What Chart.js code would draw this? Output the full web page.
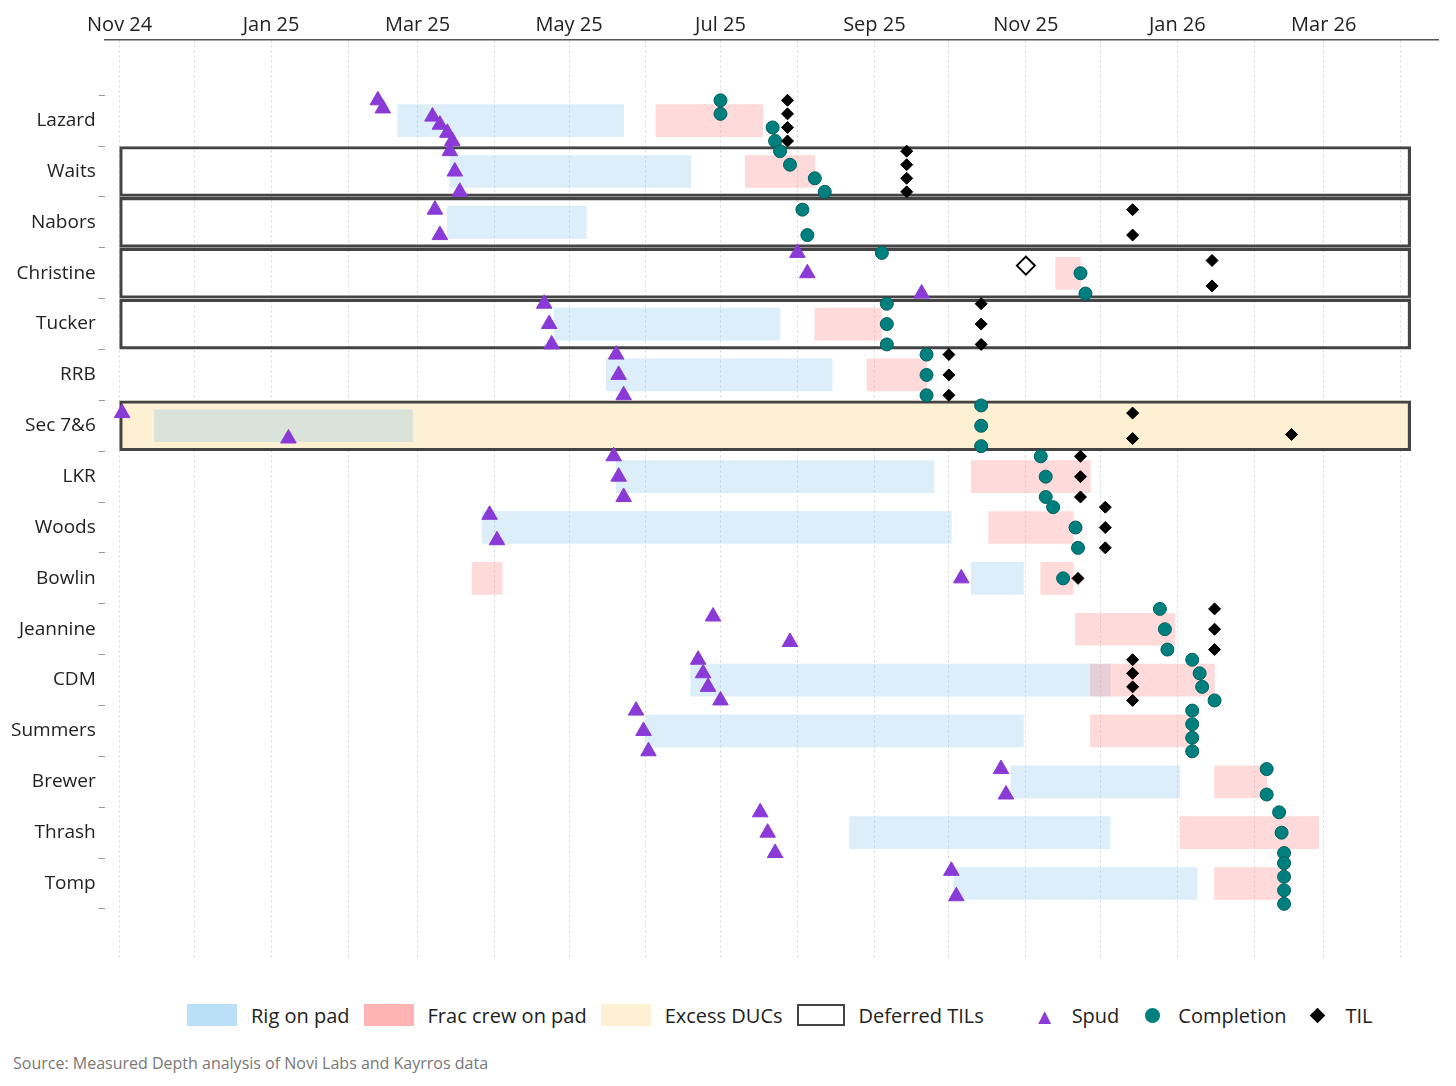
<!DOCTYPE html>
<html><head><meta charset="utf-8">
<script src="https://cdn.jsdelivr.net/npm/chart.js@4"></script>
<style>
body{margin:0;background:#fff;font-family:"Open Sans","Noto Sans",sans-serif;}
#wrap{position:absolute;left:0;top:0;width:1456px;height:975px;}
#legend{position:absolute;top:1000px;left:187px;display:flex;align-items:center;font-size:20px;color:#222;}
.sw{display:inline-block;width:50px;height:22px;margin-right:14px;}
.it{display:flex;align-items:center;margin-right:14px;}
#src{position:absolute;top:1052px;left:13px;font-size:16px;color:#777;}
</style></head><body>
<div id="wrap"><canvas id="c"></canvas></div>
<div id="legend">
<div class="it"><span class="sw" style="background:#b9e0f6"></span>Rig on pad</div>
<div class="it"><span class="sw" style="background:#ffb3b3"></span>Frac crew on pad</div>
<div class="it"><span class="sw" style="background:#fdf0d3"></span>Excess DUCs</div>
<div class="it" style="margin-right:50px"><span class="sw" style="border:2.5px solid #444;box-sizing:border-box;height:22px;width:48px"></span>Deferred TILs</div>
<div class="it" style="margin-right:26px"><span style="color:#8a3ad6;font-size:22px;margin-right:16px">&#9650;</span>Spud</div>
<div class="it" style="margin-right:26px"><span style="display:inline-block;width:15px;height:15px;border-radius:50%;background:#007f7f;margin-right:18px"></span>Completion</div>
<div class="it"><span style="display:inline-block;width:11px;height:11px;background:#000;transform:rotate(45deg);margin-right:22px"></span>TIL</div>
</div>
<div id="src">Source: Measured Depth analysis of Novi Labs and Kayrros data</div>
<script>
const pads = ['Lazard','Waits','Nabors','Christine','Tucker','RRB','Sec 7&6','LKR','Woods','Bowlin','Jeannine','CDM','Summers','Brewer','Thrash','Tomp'];
const deferredPads = ['Waits','Nabors','Christine','Tucker','Sec 7&6'];
const excessDUCPads = ['Sec 7&6'];
const boxSpan = ['2024-11-01','2026-04-05'];
const rigBars = [
['Lazard','2025-02-21','2025-05-23'],['Waits','2025-03-14','2025-06-19'],['Nabors','2025-03-13','2025-05-08'],
['Tucker','2025-04-25','2025-07-25'],['RRB','2025-05-16','2025-08-15'],['Sec 7&6','2024-11-15','2025-02-27'],
['LKR','2025-05-20','2025-09-25'],['Woods','2025-03-27','2025-10-02'],['Bowlin','2025-10-10','2025-10-31'],
['CDM','2025-06-19','2025-12-05'],['Summers','2025-06-01','2025-10-31'],['Brewer','2025-10-26','2026-01-02'],
['Thrash','2025-08-22','2025-12-05'],['Tomp','2025-10-03','2026-01-09']];
const fracBars = [
['Lazard','2025-06-05','2025-07-18'],['Waits','2025-07-11','2025-08-08'],['Christine','2025-11-13','2025-11-23'],
['Tucker','2025-08-08','2025-09-04'],['RRB','2025-08-29','2025-09-22'],['LKR','2025-10-10','2025-11-27'],
['Woods','2025-10-17','2025-11-20'],['Bowlin','2025-03-23','2025-04-04'],['Bowlin','2025-11-07','2025-11-20'],
['Jeannine','2025-11-21','2025-12-31'],['CDM','2025-11-27','2026-01-16'],['Summers','2025-11-27','2026-01-05'],
['Brewer','2026-01-16','2026-02-06'],['Thrash','2026-01-02','2026-02-27'],['Tomp','2026-01-16','2026-02-12']];
const spuds = [
['Lazard',['2025-02-13','2025-02-15','2025-03-07','2025-03-10','2025-03-13','2025-03-15']],
['Waits',['2025-03-14','2025-03-16','2025-03-18']],['Nabors',['2025-03-08','2025-03-10']],
['Christine',['2025-08-01','2025-08-05','2025-09-20']],['Tucker',['2025-04-21','2025-04-23','2025-04-24']],
['RRB',['2025-05-20','2025-05-21','2025-05-23']],['Sec 7&6',['2024-11-02','2025-01-08']],
['LKR',['2025-05-19','2025-05-21','2025-05-23']],['Woods',['2025-03-30','2025-04-02']],['Bowlin',['2025-10-06']],
['Jeannine',['2025-06-28','2025-07-29']],['CDM',['2025-06-22','2025-06-24','2025-06-26','2025-07-01']],
['Summers',['2025-05-28','2025-05-31','2025-06-02']],['Brewer',['2025-10-22','2025-10-24']],
['Thrash',['2025-07-17','2025-07-20','2025-07-23']],['Tomp',['2025-10-02','2025-10-04']]];
const completions = [
['Lazard',['2025-07-01','2025-07-01','2025-07-22','2025-07-23']],['Waits',['2025-07-25','2025-07-29','2025-08-08','2025-08-12']],
['Nabors',['2025-08-03','2025-08-05']],['Christine',['2025-09-04','2025-11-23','2025-11-25']],
['Tucker',['2025-09-06','2025-09-06','2025-09-06']],['RRB',['2025-09-22','2025-09-22','2025-09-22']],
['Sec 7&6',['2025-10-14','2025-10-14','2025-10-14']],['LKR',['2025-11-07','2025-11-09','2025-11-09']],
['Woods',['2025-11-12','2025-11-21','2025-11-22']],['Bowlin',['2025-11-16']],['Jeannine',['2025-12-25','2025-12-27','2025-12-28']],
['CDM',['2026-01-07','2026-01-10','2026-01-11','2026-01-16']],['Summers',['2026-01-07','2026-01-07','2026-01-07','2026-01-07']],
['Brewer',['2026-02-06','2026-02-06']],['Thrash',['2026-02-11','2026-02-12','2026-02-13']],
['Tomp',['2026-02-13','2026-02-13','2026-02-13','2026-02-13']]];
const tils = [
['Lazard',['2025-07-28','2025-07-28','2025-07-28','2025-07-28']],['Waits',['2025-09-14','2025-09-14','2025-09-14','2025-09-14']],
['Nabors',['2025-12-14','2025-12-14']],['Christine',['2026-01-15','2026-01-15']],['Tucker',['2025-10-14','2025-10-14','2025-10-14']],
['RRB',['2025-10-01','2025-10-01','2025-10-01']],['Sec 7&6',['2025-12-14','2025-12-14']],['LKR',['2025-11-23','2025-11-23','2025-11-23']],
['Woods',['2025-12-03','2025-12-03','2025-12-03']],['Bowlin',['2025-11-22']],['Jeannine',['2026-01-16','2026-01-16','2026-01-16']],
['CDM',['2025-12-14','2025-12-14','2025-12-14','2025-12-14']]];
const singleTils = [['Sec 7&6','2026-02-16']];
const plannedTils = [['Christine','2025-11-01']];
const tickMonths = ['2024-11-01','2024-12-01','2025-01-01','2025-02-01','2025-03-01','2025-04-01','2025-05-01','2025-06-01','2025-07-01','2025-08-01','2025-09-01','2025-10-01','2025-11-01','2025-12-01','2026-01-01','2026-02-01','2026-03-01','2026-04-01'];
const tickLabels = ['Nov 24','','Jan 25','','Mar 25','','May 25','','Jul 25','','Sep 25','','Nov 25','','Jan 26','','Mar 26',''];

const D = s => Date.parse(s+'T00:00:00Z')/86400000;
const row = p => pads.indexOf(p);
const bars = (list) => list.map(r => ({x:[D(r[1]),D(r[2])], y:row(r[0])}));
function pts(list){
  const out=[];
  list.forEach(([p,ds])=>{
    const n=ds.length;
    ds.forEach((d,k)=>out.push({x:D(d), y:row(p)+(n>1?(k-(n-1)/2)*(0.5/Math.max(n-1,1))*Math.min(n-1,1.6)/1:0)}));
  });
  return out;
}
const tickVals = tickMonths.map(D);
const F = '"Open Sans","Noto Sans",sans-serif';
new Chart(document.getElementById('c'),{
  data:{datasets:[
    {type:'bar',data:excessDUCPads.map(p=>({x:[D(boxSpan[0]),D(boxSpan[1])],y:row(p)})),backgroundColor:'#fdf0d3',barThickness:50,grouped:false,order:10},
    {type:'bar',data:bars(rigBars),backgroundColor:'rgba(130,195,238,0.28)',barThickness:32,grouped:false,order:9},
    {type:'bar',data:bars(fracBars),backgroundColor:'rgba(255,140,140,0.32)',barThickness:32,grouped:false,order:8},
    {type:'bar',data:deferredPads.map(p=>({x:[D(boxSpan[0]),D(boxSpan[1])],y:row(p)})),backgroundColor:'rgba(0,0,0,0)',borderColor:'#444',borderWidth:2.5,borderSkipped:false,barThickness:50,grouped:false,order:7},
    {type:'scatter',data:pts(spuds),pointStyle:'triangle',pointRadius:9,backgroundColor:'#8a3ad6',borderColor:'#8a3ad6',order:3},
    {type:'scatter',data:pts(completions),pointStyle:'circle',pointRadius:6.5,backgroundColor:'#007f7f',borderColor:'#005f5f',borderWidth:1,order:2},
    {type:'scatter',data:pts(tils).concat(pts(singleTils.map(r=>[r[0],[r[1]]])).map(p=>({x:p.x,y:p.y+0.17}))),pointStyle:'rectRot',pointRadius:6,backgroundColor:'#000',borderColor:'#000',order:1},
    {type:'scatter',data:pts(plannedTils.map(r=>[r[0],[r[1]]])).map(p=>({x:p.x,y:p.y-0.15})),pointStyle:'rectRot',pointRadius:9,backgroundColor:'#fff',borderColor:'#000',borderWidth:2,order:1}
  ]},
  options:{
    responsive:true,maintainAspectRatio:false,animation:false,indexAxis:'y',
    layout:{padding:{left:8,right:18,top:10,bottom:0}},
    plugins:{legend:{display:false},tooltip:{enabled:false}},
    scales:{
      x:{type:'linear',position:'top',min:D('2024-10-26'),max:D('2026-04-16'),
        afterBuildTicks:a=>{a.ticks=tickVals.map(v=>({value:v}));},
        ticks:{autoSkip:false,maxRotation:0,color:'#222',font:{family:F,size:20},callback:(v,i)=>tickLabels[i]},
        grid:{color:'#d6d6d6',lineWidth:1,drawTicks:false,tickBorderDash:[2,3]},
        border:{color:'#555',width:1.5,dash:[2,3]}
      },
      y:{type:'linear',reverse:true,min:-1.02,max:15.95,
        afterBuildTicks:a=>{a.ticks=pads.map((p,i)=>({value:i}));},
        ticks:{autoSkip:false,color:'#222',font:{family:F,size:19},callback:(v)=>pads[v]??''},
        grid:{display:true,drawOnChartArea:false,color:'#999',tickLength:6},
        border:{display:false}
      }
    }
  },
  plugins:[{id:'fix',beforeDraw(c){
    // dotted vertical grid via dash on the x grid
  }}]
});
</script></body></html>
